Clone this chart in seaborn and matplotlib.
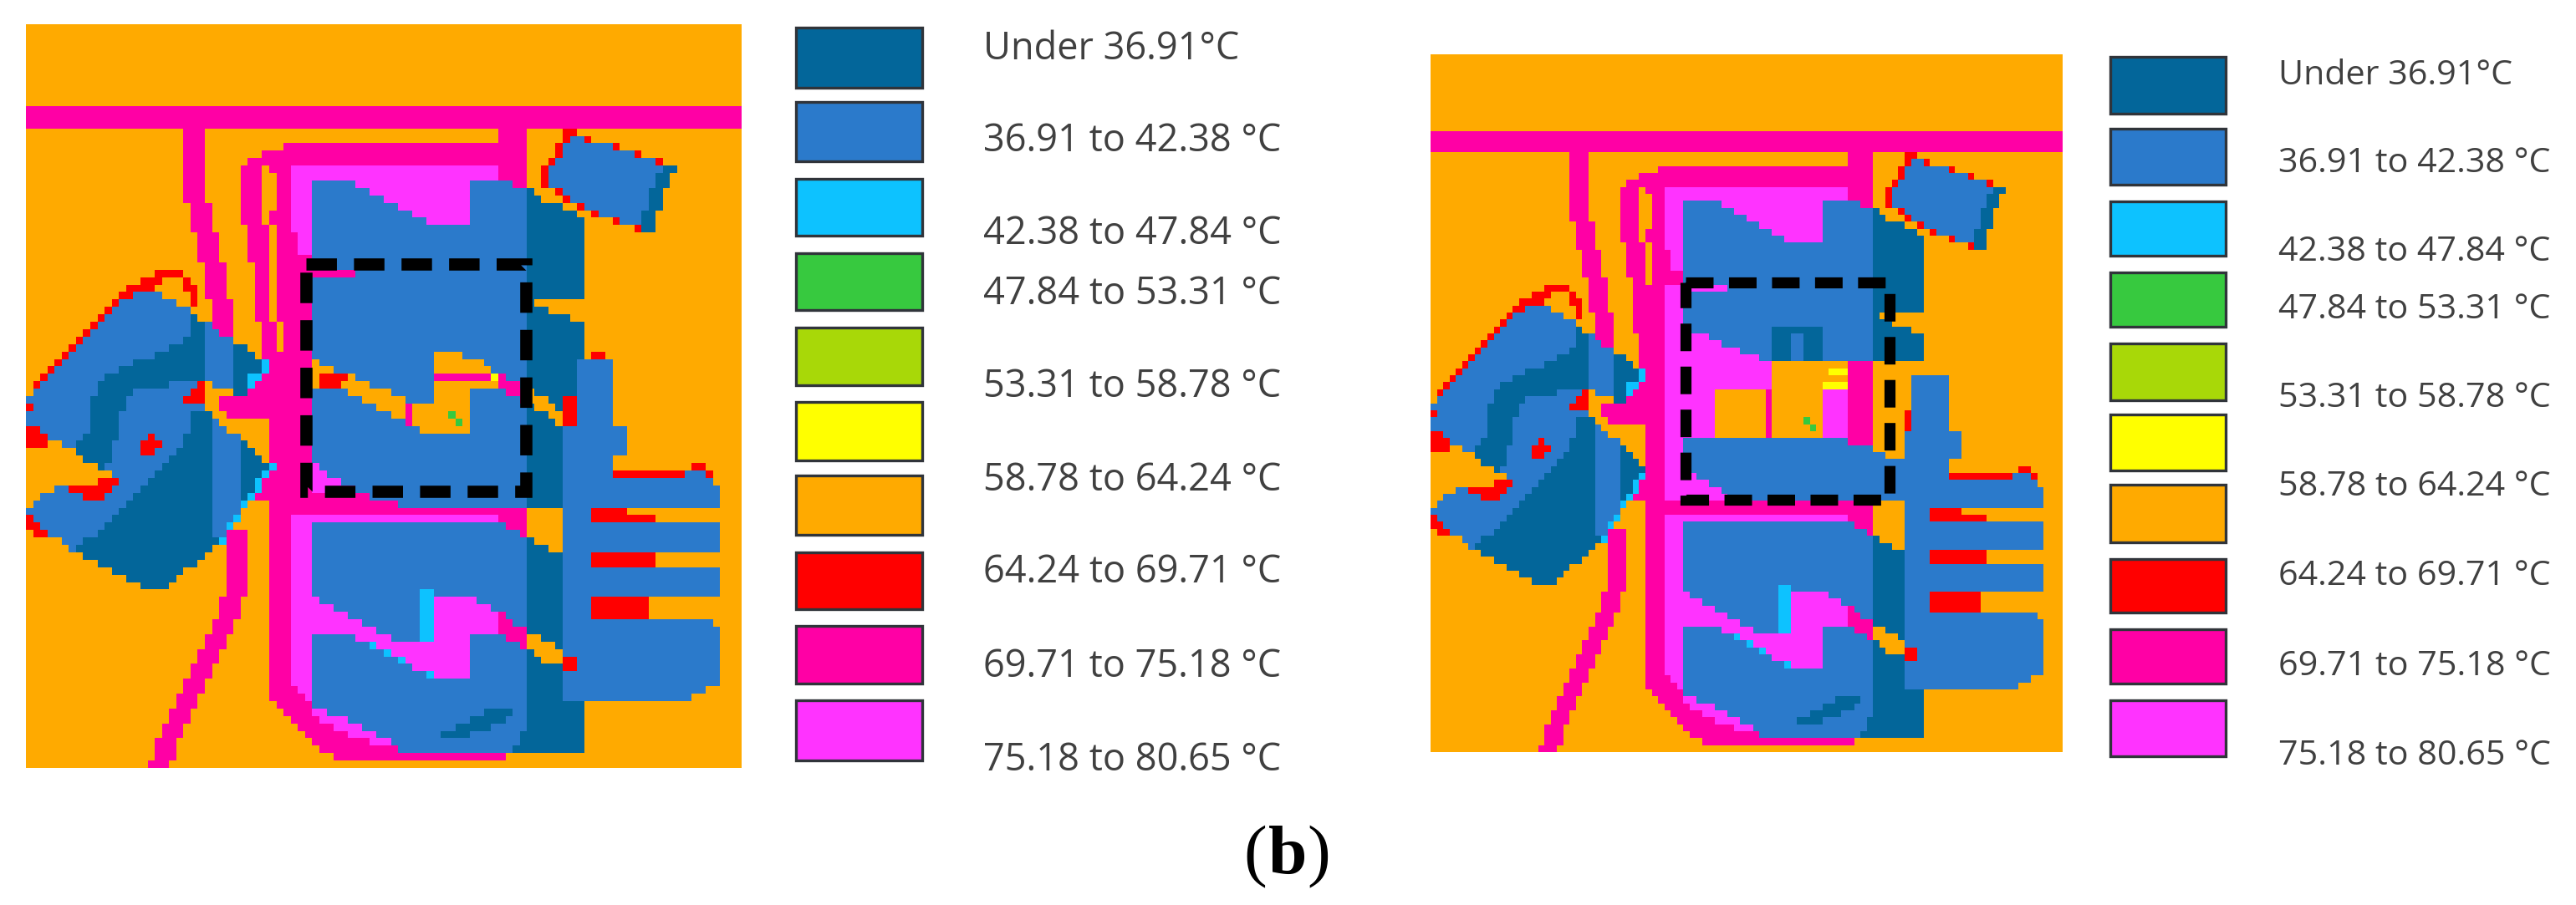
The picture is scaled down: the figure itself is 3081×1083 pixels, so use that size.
import matplotlib
matplotlib.use("Agg")
import matplotlib.pyplot as plt
from matplotlib.colors import ListedColormap
from matplotlib.patches import Rectangle
import pandas as pd
import seaborn as sns

W, H = 3081, 1083

# temperature classes, coldest first
symbols = "DBCGLYORPM"
class_colors = ["#03669A", "#2B7ACB", "#0DC2FF", "#37C93F", "#A8D808",
                "#FFFF00", "#FFAA00", "#FF0000", "#FF00A5", "#FF33FF"]
swatch_labels = ["Under 36.91°C", "36.91 to 42.38 °C", "42.38 to 47.84 °C", "47.84 to 53.31 °C",
                 "53.31 to 58.78 °C", "58.78 to 64.24 °C", "64.24 to 69.71 °C",
                 "69.71 to 75.18 °C", "75.18 to 80.65 °C"]

# class map, one string per row of cells
# each run is a class letter and the column where that run stops
left_rows = ["O100"] * 11 + ["P100"] * 3 + [
    "O22 P25 O66 P70 O75 R77 O100",
    "O22 P25 O66 P70 O75 R76 B78 R79 O100",
    "O22 P25 O36 P70 O74 R75 B82 R83 O100",
    "O22 P25 O33 P70 O74 R75 B85 R86 O100",
    "O22 P25 O31 P70 O73 R74 B88 R89 O100",
    "O22 P25 O30 P33 O34 P37 M66 P70 O72 R73 B89 D91 O100",
    "O22 P25 O30 P33 O35 P37 M66 P70 O72 R73 B88 D90 O100",
    "O22 P25 O30 P33 O35 P37 M40 B46 M62 B68 P70 O72 R73 B88 D90 O100",
    "O22 P25 O30 P33 O35 P37 M40 B48 M62 B70 D71 O74 R75 B87 D89 O100",
    "O22 P25 O30 P33 O35 P37 M40 B50 M62 B70 D72 O75 R76 B87 D89 O100",
    "O23 P26 O30 P33 O35 P37 M40 B52 M62 B70 D75 O77 R78 B87 D89 O100",
    "O23 P26 O30 P33 O34 P37 M40 B54 M62 B70 D77 O79 R80 B86 D88 O100",
    "O23 P26 O30 P33 O34 P37 M40 B56 M62 B70 D78 O82 R83 B86 D88 O100",
    "O23 P26 O31 P34 O35 P37 M40 B70 D78 O85 R86 D88 O100",
    "O24 P27 O31 P34 O35 P38 M40 B70 D78 O100",
    "O24 P27 O31 P34 O35 P38 M40 B70 D78 O100",
    "O24 P27 O31 P34 O35 P38 M40 B70 D78 O100",
    "O24 P27 O31 P34 O35 P40 B70 D78 O100",
    "O25 P28 O32 P34 O35 P40 B70 D78 O100",
    "O18 R22 O25 P28 O32 P34 O35 P46 B70 D78 O100",
    "O16 R19 O22 R23 O25 P28 O32 P34 O35 P40 B70 D78 O100",
    "O14 R18 O22 R24 O25 P28 O32 P34 O35 P40 B70 D78 O100",
    "O13 R15 B19 O23 R24 O25 P28 O32 P34 O35 P40 B70 D78 O100",
    "O12 R13 B21 O23 R24 O26 P29 O32 P34 O35 P40 B70 D71 O100",
    "O11 R12 B23 O26 P29 O32 P34 O35 P40 B70 D73 O100",
    "O10 R11 B23 D24 O26 P29 O32 P34 O35 P40 B70 D76 O100",
    "O9 R10 B23 D25 B26 P29 O33 P35 O36 P40 B70 D78 O100",
    "O8 R9 B23 D25 B27 P29 O33 P35 O36 P40 B70 D78 O100",
    "O7 R8 B22 D25 B29 O33 P35 O36 P40 B70 D78 O100",
    "O6 R7 B20 D25 B29 D31 O33 P35 O36 P40 B70 D78 O100",
    "O5 R6 B18 D25 B29 D32 O33 P40 B57 O61 B70 D78 O79 R81 O100",
    "O4 R5 B15 D25 B29 D33 C34 P40 O41 B57 O64 B70 D77 B82 O100",
    "O3 R4 B13 D25 B29 D33 C34 P40 O43 B57 O65 B70 D77 B82 O100",
    "O2 R3 B11 D25 B29 D31 C33 P40 O41 R45 O46 B57 P65 Y66 P67 B70 D77 B82 O100",
    "O1 R2 B10 D20 B24 R25 O26 B29 D31 C32 P40 O41 R44 O48 B57 O66 P69 B70 D77 B82 O100",
    "O1 B10 D15 B23 R25 O29 D31 P40 B45 O51 B57 O62 B67 P70 O71 D77 B82 O100",
    "B9 D14 B22 R25 O27 P40 B47 O53 B57 O62 B69 P70 O73 D75 R77 B82 O100",
    "R1 B9 D14 B25 O27 P40 B49 O53 P54 O62 B70 D71 O74 D75 R77 B82 O100",
    "B9 D13 B23 D26 O28 P40 B51 O53 P54 O59 G60 O62 B70 D73 O75 R77 B82 O100",
    "B9 D13 B23 D26 B27 O34 P40 B53 P54 O60 G61 O62 B70 D74 O75 R77 B82 O100",
    "R2 B9 D13 B23 D26 B28 O34 P40 B55 O62 B70 D75 B84 O100",
    "R3 B8 D13 B17 R18 B22 D26 B30 O34 P40 B70 D75 B84 O100",
    "R3 O5 B7 D12 B16 R19 B22 D26 B30 D31 O34 P40 B70 D75 B84 O100",
    "O7 D12 B16 R18 B21 D26 B30 D32 O34 P40 B70 D75 B84 O100",
    "O8 D12 B20 D26 B30 D33 O34 P40 B70 D75 B82 O100",
    "O10 D11 B19 D26 B30 D34 C35 P40 M41 B70 D75 B82 O93 R95 O100",
    "O12 B18 D26 B30 D33 C34 P40 M42 B70 D75 B82 R92 B95 R96 O100",
    "O10 R13 B17 D26 B30 D32 C33 P40 M44 B70 D75 B96 O100",
    "O4 B6 R12 B16 D26 B30 D32 C33 P40 M46 B70 D75 B97 O100",
    "O2 B8 R11 B15 D26 B30 D31 C32 P48 B70 D75 B97 O100",
    "O1 B14 D26 B30 C31 O34 P52 B70 D75 B97 O100",
    "B13 D26 B30 O34 P70 O75 B79 R84 O100",
    "R1 B12 D26 B29 C30 O34 P37 M66 P70 O75 B79 R88 O100",
    "R2 B11 D26 B28 C29 O34 P37 M40 B67 P70 O75 B97 O100",
    "O1 R3 B10 D26 B28 P31 O34 P37 M40 B69 P70 O75 B97 O100",
    "O5 B8 D27 C28 P31 O34 P37 M40 B70 D71 O75 B97 O100",
    "O6 B7 D26 O28 P31 O34 P37 M40 B70 D73 O75 B97 O100",
    "O8 D25 O28 P31 O34 P37 M40 B70 D75 B79 R88 O100",
    "O10 D24 O28 P31 O34 P37 M40 B70 D75 B79 R88 O100",
    "O12 D22 O28 P31 O34 P37 M40 B70 D75 B97 O100",
    "O14 D21 O28 P31 O34 P37 M40 B70 D75 B97 O100",
    "O16 D20 O28 P31 O34 P37 M40 B70 D75 B97 O100",
    "O28 P31 O34 P37 M40 B55 C57 B70 D75 B97 O100",
    "O27 P30 O34 P37 M41 B55 C57 M63 B70 D75 B79 R87 O100",
    "O27 P30 O34 P37 M43 B55 C57 M65 B70 D75 B79 R87 O100",
    "O27 P30 O34 P37 M45 B55 C57 M66 P67 B70 D75 B79 R87 O100",
    "O26 P29 O34 P37 M47 B55 C57 M66 P68 B70 D75 B96 O100",
    "O26 P29 O34 P37 M49 B55 C57 M66 P70 D75 B97 O100",
    "O25 P28 O34 P37 M40 B46 M51 B55 C57 M62 B67 P70 O72 D75 B97 O100",
    "O25 P28 O34 P37 M40 B48 C49 M62 B69 P70 O74 D75 B97 O100",
    "O24 P27 O34 P37 M40 B50 C51 M62 B70 D71 O75 B97 O100",
    "O24 P27 O34 P37 M40 B52 C53 M62 B70 D72 O75 R77 B97 O100",
    "O23 P26 O34 P37 M40 B54 M62 B70 D75 R77 B97 O100",
    "O23 P26 O34 P37 M40 B56 C57 M62 B70 D75 B97 O100",
    "O22 P25 O34 P37 M40 B70 D75 B97 O100",
    "O22 P25 O34 P38 M40 B70 D75 B95 O100",
    "O21 P24 O34 P39 M40 B70 D75 B93 O100",
    "O21 P24 O35 P40 B70 D78 O100",
    "O20 P23 O36 P40 M42 B64 D68 B70 D78 O100",
    "O20 P23 O37 P41 M45 B62 D67 B70 D78 O100",
    "O19 P22 O38 P43 M47 B60 D65 B70 D78 O100",
    "O19 P22 O39 P45 M49 B58 D62 B69 D78 O100",
    "O18 P21 O40 P48 M51 B69 D78 O100",
    "O18 P21 O41 P52 B68 D78 O100",
    "O18 P21 O43 P67 O100",
    "O17 P20 O100",
]

# the second case only differs in the middle, rows 33 to 64 from column 34 on
right_first_row = 33
right_middle = [
    "P37 M47 B70 D78 O100",
    "P37 M40 B70 D78 O100",
    "P37 M40 B70 D78 O100",
    "P37 M40 B70 D78 O100",
    "P37 M40 B70 D71 O100",
    "P37 M40 B70 D73 O100",
    "P37 M41 B54 D62 B70 D76 O100",
    "P37 M44 B54 D57 B59 D62 B70 D78 O100",
    "P37 M46 B54 D57 B59 D62 B70 D78 O100",
    "P37 M49 B54 D57 B59 D62 B70 D78 O100",
    "P37 M52 B54 D57 B59 D62 B70 D78 O100",
    "P37 M54 O66 P70 O100",
    "P37 M54 O63 Y66 P70 O100",
    "P37 M54 O66 P70 O76 B82 O100",
    "P37 M54 O62 Y66 P70 O76 B82 O100",
    "P37 M45 O53 P54 O62 M66 P70 O76 B82 O100",
    "P37 M45 O53 P54 O62 M66 P70 O76 B82 O100",
    "P37 M45 O53 P54 O62 M66 P70 O76 B82 O100",
    "P37 M45 O53 P54 O62 M66 P70 O75 R76 B82 O100",
    "P37 M45 O53 P54 O59 G60 O62 M66 P70 O75 R76 B82 O100",
    "P37 M45 O53 P54 O60 G61 O62 M66 P70 O75 R76 B82 O100",
    "P37 M45 O53 P54 O62 M66 P70 O75 B84 O100",
    "P37 M40 B66 P70 O75 B84 O100",
    "P37 M40 B70 O75 B84 O100",
    "P37 M40 B72 O75 B84 O100",
    "P37 M40 B82 O100",
    "P37 M41 B82 O93 R95 O100",
    "P37 M42 B82 R92 B95 R96 O100",
    "P37 M44 B96 O100",
    "P37 M46 B97 O100",
    "P37 M47 B97 O100",
    "P70 O75 B97 O100",
]


def expand(runs, start=0):
    cells = []
    for run in runs.split():
        cells += [symbols.index(run[0])] * (int(run[1:]) - start - len(cells))
    return cells


left_grid = [expand(r) for r in left_rows]
right_grid = [row[:] for row in left_grid]
for i, runs in enumerate(right_middle):
    right_grid[right_first_row + i][34:] = expand(runs, 34)

sns.set_theme(style="white")
plt.rcParams["font.family"] = ["Open Sans", "DejaVu Sans"]

fig = plt.figure(figsize=(W / 100, H / 100), dpi=100, facecolor="white")


def map_axes(grid, x0, y0, x1, y1, box, box_lw):
    ax = fig.add_axes([x0 / W, 1 - y1 / H, (x1 - x0) / W, (y1 - y0) / H])
    sns.heatmap(pd.DataFrame(grid), ax=ax, cmap=ListedColormap(class_colors), vmin=-0.5, vmax=9.5,
                cbar=False, xticklabels=False, yticklabels=False)
    ax.add_patch(Rectangle((box[0], box[1]), box[2] - box[0], box[3] - box[1], fill=False,
                           ec="black", lw=box_lw, ls=(0, (2.5, 1.4)), joinstyle="miter"))


map_axes(left_grid, 31, 29, 887, 919, (39.1, 32.2, 69.9, 62.8), 10.5)
map_axes(right_grid, 1711, 65, 2467, 900, (40.4, 32.7, 72.6, 63.8), 9.5)

# overlay in pixels for the two legends and the panel label
over = fig.add_axes([0, 0, 1, 1])
over.set_xlim(0, W)
over.set_ylim(H, 0)
over.axis("off")


def legend(x0, x1, tops, bottoms, text_x, text_ys, size):
    for color, top, bottom in zip(class_colors, tops, bottoms):
        over.add_patch(Rectangle((x0, top), x1 - x0, bottom - top, fc=color, ec="#30343a", lw=2.4))
    for label, y in zip(swatch_labels, text_ys):
        over.text(text_x, y, label, color="#404040", fontsize=size, va="center", ha="left")


legend(952, 1103,
       [33, 122, 214, 303, 392, 481, 569, 661, 749, 838],
       [105, 193, 282, 371, 461, 551, 640, 729, 818, 910],
       1176, [59, 169, 280, 352, 463, 575, 685, 798, 910], 32.5)
legend(2524, 2662,
       [68, 154, 241, 326, 411, 496, 580, 669, 753, 838],
       [136, 221, 306, 391, 479, 563, 649, 733, 818, 905],
       2725, [91, 196, 302, 371, 477, 583, 690, 798, 905], 29.7)

serif = ["Liberation Serif", "DejaVu Serif"]
over.text(1487, 1045, "(", family=serif, fontsize=60, color="black", va="baseline")
over.text(1517, 1045, "b", family=serif, fontsize=60, weight="bold", color="black", va="baseline")
over.text(1563, 1045, ")", family=serif, fontsize=60, color="black", va="baseline")

fig.savefig("out.png", dpi=100)
